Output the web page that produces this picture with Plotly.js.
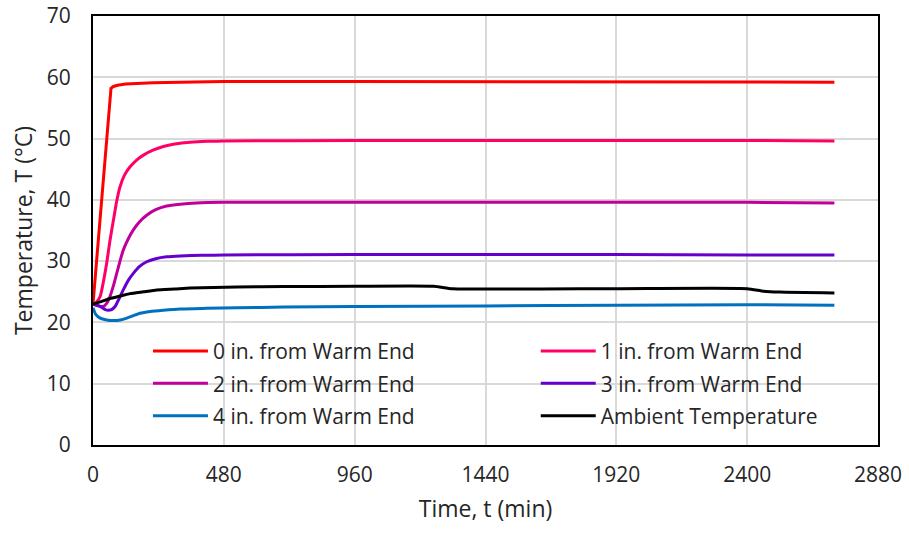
<!DOCTYPE html>
<html>
<head>
<meta charset="utf-8">
<script src="https://cdn.plot.ly/plotly-3.0.1.min.js"></script>
<style>html,body{margin:0;padding:0;background:#fff;}#chart{width:909px;height:536px;}</style>
</head>
<body>
<div id="chart"></div>
<script>
const seriesNames = ["0 in. from Warm End", "1 in. from Warm End", "2 in. from Warm End", "3 in. from Warm End", "4 in. from Warm End", "Ambient Temperature"];

const t0 = [0, 10, 20, 30, 40, 50, 60, 66, 75, 90, 120, 160, 220, 320, 480, 960, 1440, 1920, 2400, 2720];
const T0 = [23, 28.5, 34, 39.5, 45, 50.5, 56, 58.2, 58.5, 58.7, 58.9, 59.0, 59.1, 59.2, 59.3, 59.3, 59.3, 59.3, 59.3, 59.2];

const t1 = [0, 10, 26, 38, 50, 62, 75, 87, 99, 115, 136, 160, 185, 220, 258, 300, 356, 420, 480, 960, 1440, 1920, 2400, 2720];
const T1 = [23, 23.2, 24.2, 26.6, 29.6, 33.3, 36.7, 39.8, 42.1, 44.0, 45.4, 46.5, 47.3, 48.1, 48.7, 49.1, 49.4, 49.55, 49.6, 49.7, 49.7, 49.7, 49.7, 49.6];

const t2 = [0, 20, 38, 50, 62, 75, 87, 99, 111, 130, 148, 170, 197, 230, 270, 320, 380, 480, 960, 1440, 1920, 2400, 2720];
const T2 = [23, 22.7, 22.6, 23.1, 24.2, 26.0, 28.0, 30.0, 31.8, 33.7, 35.1, 36.4, 37.5, 38.4, 39.0, 39.3, 39.5, 39.6, 39.6, 39.6, 39.6, 39.6, 39.5];

const t3 = [0, 26, 45, 56, 68, 81, 95, 111, 130, 148, 170, 197, 230, 270, 320, 400, 480, 960, 1440, 1920, 2400, 2720];
const T3 = [23, 22.6, 22.1, 22.0, 22.1, 22.6, 23.8, 25.3, 26.9, 28.0, 29.1, 29.9, 30.4, 30.7, 30.85, 30.95, 31.0, 31.1, 31.1, 31.1, 31.0, 31.0];

const t4 = [0, 10, 26, 50, 75, 100, 124, 148, 172, 210, 258, 320, 417, 530, 700, 960, 1440, 1920, 2400, 2720];
const T4 = [22.4, 21.3, 20.7, 20.4, 20.3, 20.4, 20.7, 21.1, 21.5, 21.8, 22.0, 22.2, 22.3, 22.4, 22.5, 22.6, 22.7, 22.8, 22.9, 22.8];

const tA = [0, 30, 62, 100, 136, 185, 234, 300, 356, 527, 700, 960, 1250, 1320, 1920, 2400, 2460, 2520, 2720];
const TA = [23.0, 23.4, 23.9, 24.3, 24.7, 25.0, 25.3, 25.45, 25.6, 25.8, 25.85, 25.9, 25.9, 25.5, 25.5, 25.5, 25.1, 24.95, 24.8];

const xTicks = [0, 480, 960, 1440, 1920, 2400, 2880];
const yTicks = [0, 10, 20, 30, 40, 50, 60, 70];

const colors = ["#ff0000", "#ff0066", "#c0009a", "#6600cc", "#0070c0", "#000000"];
const xs = [t0, t1, t2, t3, t4, tA];
const ys = [T0, T1, T2, T3, T4, TA];
const legendOf = ["legend", "legend2", "legend", "legend2", "legend", "legend2"];

const FONT = "Open Sans, Liberation Sans, sans-serif";

const traces = xs.map((x, i) => ({
  type: "scatter",
  mode: "lines",
  x: x,
  y: ys[i],
  name: seriesNames[i],
  legend: legendOf[i],
  legendgroup: "g" + i,
  line: {color: colors[i], width: 3, shape: i === 0 ? "linear" : "spline", smoothing: 0.5},
  hoverinfo: "skip"
}));

const legendCommon = {
  orientation: "v",
  bgcolor: "rgba(0,0,0,0)",
  borderwidth: 0,
  font: {family: FONT, size: 21, color: "#262626"},
  tracegroupgap: 2,
  itemwidth: 55,
  yanchor: "top",
  y: 0.266
};

const layout = {
  width: 909,
  height: 536,
  margin: {l: 93, r: 31, t: 16, b: 91},
  paper_bgcolor: "#ffffff",
  plot_bgcolor: "#ffffff",
  font: {family: FONT, size: 21, color: "#262626"},
  showlegend: true,
  xaxis: {
    range: [0, 2880],
    tickvals: xTicks,
    ticktext: xTicks.map(String),
    showgrid: true,
    gridcolor: "#d9d9d9",
    gridwidth: 2,
    zeroline: false,
    showline: true,
    mirror: true,
    linecolor: "#000000",
    linewidth: 2,
    ticks: "",
    ticklabelstandoff: 10,
    tickfont: {family: FONT, size: 21, color: "#262626"},
    title: {text: "Time, t (min)", font: {family: FONT, size: 23, color: "#262626"}, standoff: 14}
  },
  yaxis: {
    range: [0, 70],
    tickvals: yTicks,
    ticktext: yTicks.map(String),
    showgrid: true,
    gridcolor: "#d9d9d9",
    gridwidth: 2,
    zeroline: false,
    showline: true,
    mirror: true,
    linecolor: "#000000",
    linewidth: 2,
    ticks: "",
    ticklabelstandoff: 16,
    tickfont: {family: FONT, size: 21, color: "#262626"},
    title: {text: "Temperature, T (°C)", font: {family: FONT, size: 23, color: "#262626"}, standoff: 8}
  },
  legend: Object.assign({}, legendCommon, {x: 0.07, xanchor: "left"}),
  legend2: Object.assign({}, legendCommon, {x: 0.564, xanchor: "left"})
};

Plotly.newPlot("chart", traces, layout, {displayModeBar: false, staticPlot: true});
</script>
</body>
</html>
